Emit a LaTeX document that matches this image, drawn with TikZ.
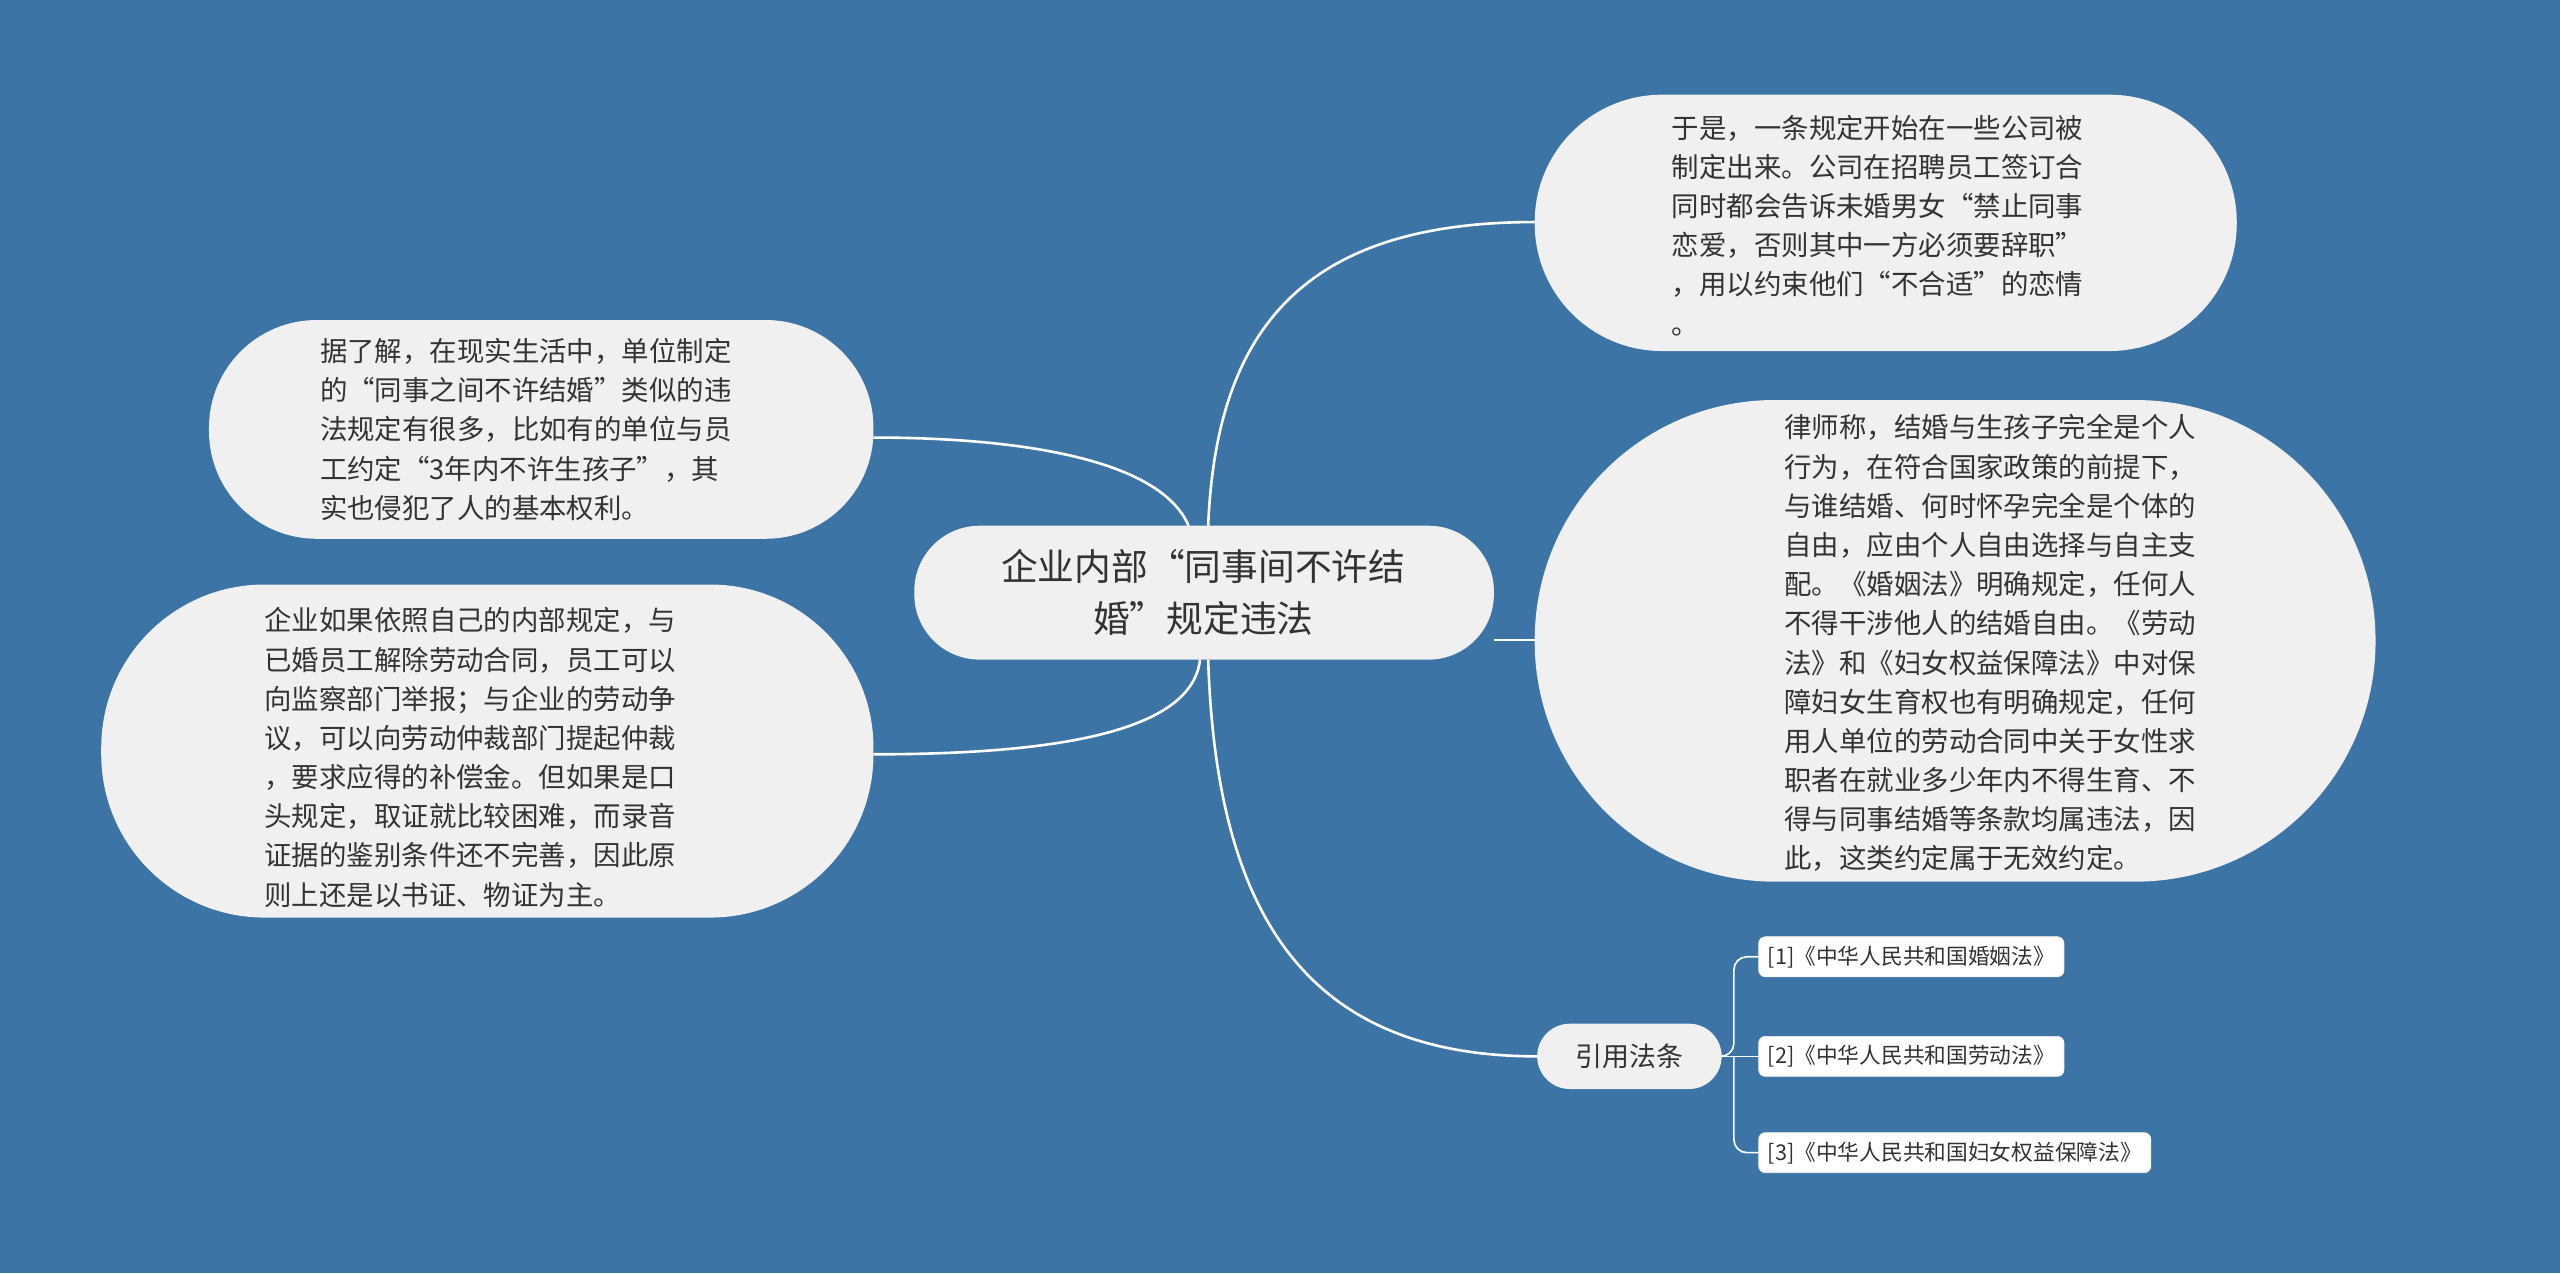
\documentclass[tikz,border=0pt]{standalone}
\usepackage{fontspec}
\setmainfont{Noto Sans CJK SC}
\begin{document}
\begin{tikzpicture}[x=1pt,y=-1pt,
  bub/.style={fill=none,draw=none,align=left,inner sep=0pt,font=\fontsize{16.8}{24}\selectfont,text=txt},
  refbox/.style={fill=white,draw=bubg,rounded corners=4pt,inner sep=5.5pt,font=\fontsize{13.3}{16}\selectfont,text=txt},
  con/.style={draw=white,line width=1.6pt}]
\definecolor{bg}{HTML}{3C74A6}
\definecolor{bubg}{HTML}{F0F0F0}
\definecolor{txt}{HTML}{333333}
\fill[bg] (0,0) rectangle (1568,780);
\useasboundingbox (0,0) rectangle (1568,780);
\fill[bubg,rounded corners=40pt] (560,322) rectangle (915,404);
\node[font=\fontsize{22.5}{32}\selectfont,text=txt,align=center] (c) at (737,363) {企业内部“同事间不许结\\婚”规定违法};
\coordinate (cN) at (740,322); \coordinate (cS) at (740,404);
\coordinate (cE) at (915,392); \coordinate (cW) at (728,322); \coordinate (cW2) at (735,404);

\fill[bubg,rounded corners=78pt] (940,58) rectangle (1370,215);
\node[bub] (tr) at (1150,138) {于是，一条规定开始在一些公司被\\制定出来。公司在招聘员工签订合\\同时都会告诉未婚男女“禁止同事\\恋爱，否则其中一方必须要辞职”\\，用以约束他们“不合适”的恋情\\。};
\coordinate (trW) at (940,136);

\fill[bubg,rounded corners=147pt] (940,245) rectangle (1455,540);
\node[bub] (rb) at (1219,394) {律师称，结婚与生孩子完全是个人\\行为，在符合国家政策的前提下，\\与谁结婚、何时怀孕完全是个体的\\自由，应由个人自由选择与自主支\\配。《婚姻法》明确规定，任何人\\不得干涉他人的结婚自由。《劳动\\法》和《妇女权益保障法》中对保\\障妇女生育权也有明确规定，任何\\用人单位的劳动合同中关于女性求\\职者在就业多少年内不得生育、不\\得与同事结婚等条款均属违法，因\\此，这类约定属于无效约定。};
\coordinate (rbW) at (940,392);

\fill[bubg,rounded corners=66pt] (128,196) rectangle (535,330);
\node[bub] (lt) at (322,263) {据了解，在现实生活中，单位制定\\的“同事之间不许结婚”类似的违\\法规定有很多，比如有的单位与员\\工约定“3年内不许生孩子”，其\\实也侵犯了人的基本权利。};
\coordinate (ltE) at (535,268);

\fill[bubg,rounded corners=100pt] (62,358) rectangle (535,562);
\node[bub] (lb) at (288,464) {企业如果依照自己的内部规定，与\\已婚员工解除劳动合同，员工可以\\向监察部门举报；与企业的劳动争\\议，可以向劳动仲裁部门提起仲裁\\，要求应得的补偿金。但如果是口\\头规定，取证就比较困难，而录音\\证据的鉴别条件还不完善，因此原\\则上还是以书证、物证为主。};
\coordinate (lbE) at (535,462);

\node[fill=bubg,rounded corners=20pt,minimum width=113pt,minimum height=40pt,font=\fontsize{16.5}{20}\selectfont,text=txt] (ref) at (998,647) {引用法条};

\node[refbox,anchor=west] (r1) at (1077,586) {[1]《中华人民共和国婚姻法》};
\node[refbox,anchor=west] (r2) at (1077,647) {[2]《中华人民共和国劳动法》};
\node[refbox,anchor=west] (r3) at (1077,706) {[3]《中华人民共和国妇女权益保障法》};

\draw[con] (cN) .. controls (745,200) and (800,136) .. (trW);
\draw[con] (cE) -- (rbW);
\draw[con] (cS) .. controls (745,560) and (800,647) .. (ref.west);
\draw[con] (cW) .. controls (710,280) and (620,268) .. (ltE);
\draw[con] (cW2) .. controls (730,450) and (640,462) .. (lbE);
\draw[con,line width=1pt,rounded corners=8pt] (ref.east) -- (1062,647) |- (r1.west);
\draw[con,line width=1pt] (ref.east) -- (r2.west);
\draw[con,line width=1pt,rounded corners=8pt] (1062,647) |- (r3.west);
\end{tikzpicture}
\end{document}
